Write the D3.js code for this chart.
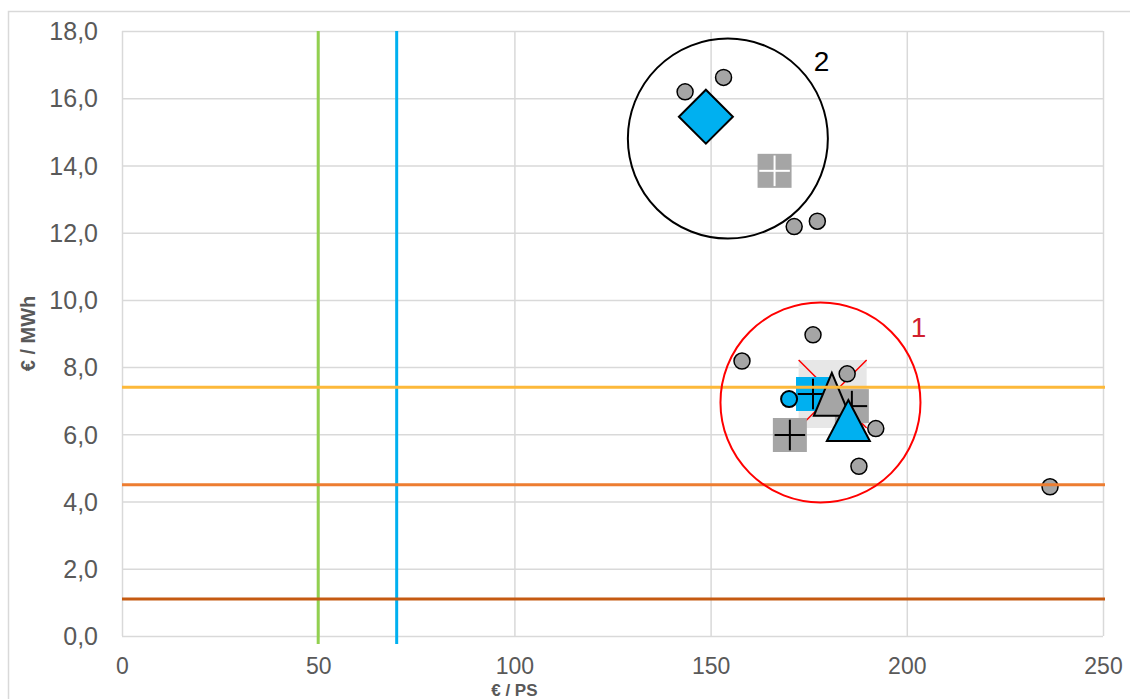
<!DOCTYPE html>
<html>
<head>
<meta charset="utf-8">
<script src="https://cdn.jsdelivr.net/npm/d3@7"></script>
<style>
  html, body { margin: 0; padding: 0; background: #fff; }
  svg { display: block; }
  svg text { font-family: "Liberation Sans", Arial, sans-serif; }
</style>
</head>
<body>
<svg id="chart" width="1130" height="699"></svg>
<script>
// Axis ticks
const xTicks = [0, 50, 100, 150, 200, 250];
const yTicks = [0, 2, 4, 6, 8, 10, 12, 14, 16, 18];

// Threshold lines
const vLineValues = [50, 70];
const vLineColors = ["#92d050", "#00b0f0"];
const hLineValues = [7.4, 4.5, 1.1];
const hLineColors = ["#fdb93a", "#ed7d31", "#c55a11"];

// Individual observations (grey dots)
const dotX = [143.5, 153.3, 171.3, 177.2, 158.0, 176.1, 184.8, 192.1, 187.8, 236.5];
const dotY = [16.19, 16.62, 12.18, 12.34, 8.18, 8.96, 7.8, 6.17, 5.05, 4.44];

// Summary markers
const markerNames = ["overall", "greySquareLow", "greySquareMid", "blueSquare", "blueDot", "greyTriangle", "blueTriangle", "blueDiamond", "greySquareHigh"];
const markerX = [181.1, 170.2, 186.0, 176.1, 170.0, 180.9, 185.1, 148.8, 166.3];
const markerY = [7.2, 5.98, 6.84, 7.2, 7.05, 7.19, 6.41, 15.45, 13.84];

// Cluster rings and their labels
const clusterLabels = ["1", "2"];
const clusterX = [178.0, 154.4];
const clusterY = [6.95, 14.8];
const clusterLabelX = [203.0, 178.3];
const clusterLabelY = [9.2, 17.1];

const svg = d3.select("#chart");
const x = d3.scaleLinear().domain([0, 250]).range([122, 1103]);
const y = d3.scaleLinear().domain([0, 18]).range([636, 31]);

const grid = "#d9d9d9";
const textGrey = "#595959";
const grey = "#a5a5a5";
const blue = "#00b0f0";
const fontFamily = "Liberation Sans, Arial, sans-serif";

// Chart frame
svg.append("rect").attr("x", 8.5).attr("y", 11.5).attr("width", 1130).attr("height", 700)
  .attr("fill", "none").attr("stroke", grid).attr("stroke-width", 1.5);

// Gridlines and tick labels
const yAxis = d3.axisLeft(y).tickValues(yTicks).tickSize(-(x(250) - x(0)))
  .tickFormat(d => d3.format(".1f")(d).replace(".", ","));
const gy = svg.append("g").attr("transform", `translate(${x(0)},0)`)
  .call(yAxis).attr("font-family", fontFamily);
gy.select(".domain").remove();
gy.selectAll(".tick line").attr("stroke", grid).attr("stroke-width", 1.5);
gy.selectAll(".tick text").attr("x", -24).attr("fill", textGrey)
  .style("font-size", "25px").attr("dy", "0.35em");

const xAxis = d3.axisBottom(x).tickValues(xTicks).tickSize(-(y(0) - y(18)));
const gx = svg.append("g").attr("transform", `translate(0,${y(0)})`)
  .call(xAxis).attr("font-family", fontFamily);
gx.select(".domain").remove();
gx.selectAll(".tick line").attr("stroke", grid).attr("stroke-width", 1.5);
gx.selectAll(".tick text").attr("y", 38).attr("dy", 0).attr("fill", textGrey)
  .style("font-size", "23px");

// Axis titles
svg.append("text").attr("transform", `translate(35,${y(9)}) rotate(-90)`)
  .attr("text-anchor", "middle").attr("fill", textGrey)
  .style("font-size", "20px").style("font-weight", "bold").text("€ / MWh");
svg.append("text").attr("transform", `translate(${x(100)},695.5)`)
  .attr("text-anchor", "middle").attr("fill", textGrey)
  .style("font-size", "17px").style("font-weight", "bold").text("€ / PS");

// Marker layer
const markers = svg.append("g");
const m = i => ({ cx: x(markerX[i]), cy: y(markerY[i]) });

function squareWithCross(i, size, fill, crossColor, crossWidth) {
  const { cx, cy } = m(i);
  const g = markers.append("g").attr("class", markerNames[i]);
  g.append("rect").attr("x", cx - size / 2).attr("y", cy - size / 2)
    .attr("width", size).attr("height", size).attr("fill", fill);
  const a = size * 0.45;
  g.append("line").attr("x1", cx - a).attr("x2", cx + a).attr("y1", cy).attr("y2", cy)
    .attr("stroke", crossColor).attr("stroke-width", crossWidth);
  g.append("line").attr("x1", cx).attr("x2", cx).attr("y1", cy - a).attr("y2", cy + a)
    .attr("stroke", crossColor).attr("stroke-width", crossWidth);
}

function triangle(i, w, h, fill) {
  const { cx, cy } = m(i);
  markers.append("path").attr("class", markerNames[i])
    .attr("d", `M${cx},${cy - h / 2}L${cx + w / 2},${cy + h / 2}L${cx - w / 2},${cy + h / 2}Z`)
    .attr("fill", fill).attr("stroke", "#000").attr("stroke-width", 2).attr("stroke-linejoin", "miter");
}

// Overall mean: pale square with red X
{
  const { cx, cy } = m(0);
  const s = 68;
  const g = markers.append("g").attr("class", markerNames[0]);
  g.append("rect").attr("x", cx - s / 2).attr("y", cy - s / 2).attr("width", s).attr("height", s)
    .attr("fill", "#e7e7e7");
  g.append("path").attr("d", `M${cx - s / 2},${cy - s / 2}L${cx + s / 2},${cy + s / 2}M${cx + s / 2},${cy - s / 2}L${cx - s / 2},${cy + s / 2}`)
    .attr("stroke", "#ff0000").attr("stroke-width", 1.5);
}
squareWithCross(1, 34, grey, "#000", 2);
squareWithCross(2, 34, grey, "#000", 2);
squareWithCross(3, 34, blue, "#000", 2);
{
  const { cx, cy } = m(4);
  markers.append("circle").attr("class", markerNames[4]).attr("cx", cx).attr("cy", cy).attr("r", 8)
    .attr("fill", blue).attr("stroke", "#000").attr("stroke-width", 2);
}
triangle(5, 36, 43, grey);
triangle(6, 43, 41, blue);
{
  const { cx, cy } = m(7);
  const r = 27;
  markers.append("path").attr("class", markerNames[7])
    .attr("d", `M${cx},${cy - r}L${cx + r},${cy}L${cx},${cy + r}L${cx - r},${cy}Z`)
    .attr("fill", blue).attr("stroke", "#000").attr("stroke-width", 2);
}
squareWithCross(8, 34, grey, "#fff", 2);

// Grey observation dots
markers.selectAll("circle.dot").data(dotX.map((d, i) => [d, dotY[i]])).join("circle")
  .attr("class", "dot")
  .attr("cx", d => x(d[0])).attr("cy", d => y(d[1])).attr("r", 8)
  .attr("fill", grey).attr("stroke", "#000").attr("stroke-width", 1.5);

// Threshold lines
svg.append("g").selectAll("line").data(vLineValues).join("line")
  .attr("x1", d => x(d)).attr("x2", d => x(d)).attr("y1", y(18)).attr("y2", y(0) + 8)
  .attr("stroke", (d, i) => vLineColors[i]).attr("stroke-width", 3);
svg.append("g").selectAll("line").data(hLineValues).join("line")
  .attr("x1", x(0)).attr("x2", x(250) + 2).attr("y1", d => y(d)).attr("y2", d => y(d))
  .attr("stroke", (d, i) => hLineColors[i]).attr("stroke-width", 3);

// Cluster rings
const ringColors = ["#ff0000", "#000000"];
const labelColors = ["#d0202e", "#000000"];
svg.append("g").selectAll("circle").data(clusterX).join("circle")
  .attr("cx", d => x(d)).attr("cy", (d, i) => y(clusterY[i])).attr("r", 100)
  .attr("fill", "none").attr("stroke", (d, i) => ringColors[i]).attr("stroke-width", 2);
svg.append("g").selectAll("text").data(clusterLabels).join("text")
  .attr("x", (d, i) => x(clusterLabelX[i])).attr("y", (d, i) => y(clusterLabelY[i]))
  .attr("dy", "0.35em").attr("text-anchor", "middle")
  .attr("fill", (d, i) => labelColors[i]).style("font-size", "28px").text(d => d);
</script>
</body>
</html>
